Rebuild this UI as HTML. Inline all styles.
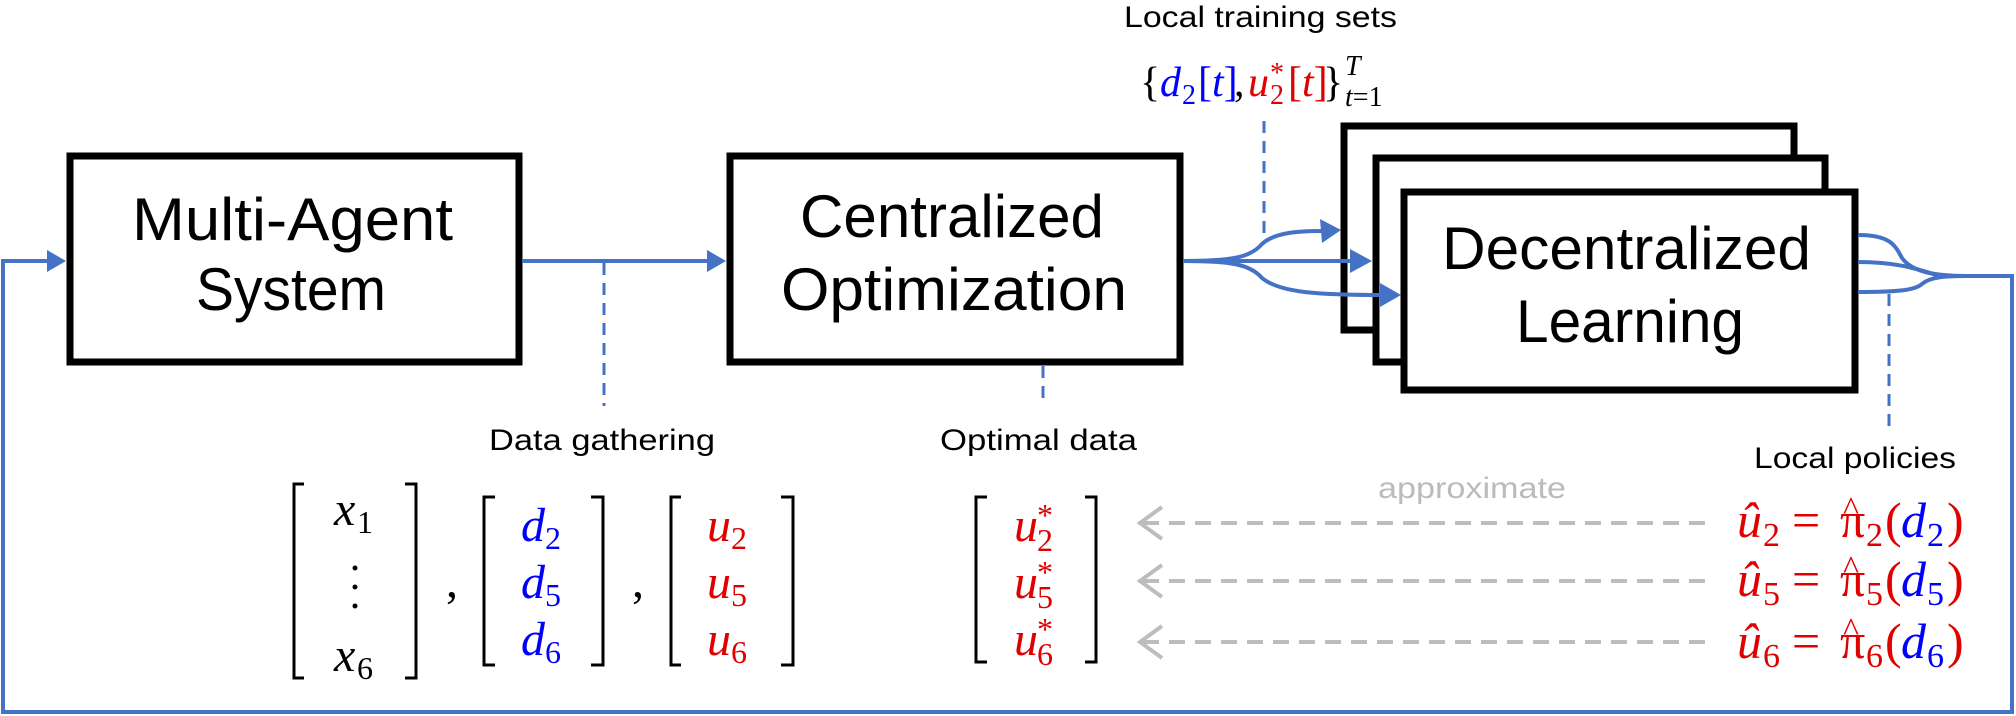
<!DOCTYPE html>
<html><head><meta charset="utf-8"><style>
html,body{margin:0;padding:0;background:#fff;}
svg{display:block;}
.s{font-family:"Liberation Sans",sans-serif;fill:#000;}
.m{font-family:"Liberation Serif",serif;}
.i{font-style:italic;}
</style></head><body>
<svg width="2016" height="716" viewBox="0 0 2016 716" xmlns="http://www.w3.org/2000/svg">
<!-- boxes -->
<g fill="#fff" stroke="#000" stroke-width="7">
<rect x="70" y="156" width="449" height="206"/>
<rect x="730" y="156" width="450" height="206"/>
<rect x="1344" y="126" width="450" height="204"/>
<rect x="1376" y="158" width="449" height="204"/>
<rect x="1404" y="192" width="451" height="198"/>
</g>
<g fill="none" stroke="#4472c4" stroke-width="4">
<polyline points="1966,276 2012,276 2012,712 3,712 3,261 50,261"/>
<line x1="522" y1="261" x2="708" y2="261"/>
<line x1="1183" y1="261" x2="1352" y2="261"/>
<path d="M1183,261 C1230,261 1250,258 1262,244 C1275,232 1300,231 1323,231"/>
<path d="M1183,261 C1230,261 1250,264 1262,278 C1280,293 1320,295 1383,295"/>
<path d="M1858,235 C1890,235 1895,245 1902,258 C1912,272 1935,276 1966,276"/>
<path d="M1858,262 C1900,262 1920,270 1940,276"/>
<path d="M1858,292 C1900,292 1915,290 1922,284 C1930,277 1945,276 1966,276"/>
</g>
<g fill="#4472c4">
<polygon points="66,261 47,250 47,272"/>
<polygon points="726,261 707,250 707,272"/>
<polygon points="1341,230 1320,219 1322,243"/>
<polygon points="1372,261 1350,249 1350,273"/>
<polygon points="1401,295 1380,283 1380,307"/>
</g>
<g stroke="#4472c4" stroke-width="3" stroke-dasharray="12,8" fill="none">
<line x1="604" y1="263" x2="604" y2="406"/>
<line x1="1043" y1="366" x2="1043" y2="406"/>
<line x1="1264" y1="121" x2="1264" y2="244"/>
<line x1="1889" y1="294" x2="1889" y2="434"/>
</g>
<text class="s" x="132" y="240" font-size="60" textLength="321" lengthAdjust="spacingAndGlyphs">Multi-Agent</text>
<text class="s" x="196" y="310" font-size="60" textLength="190" lengthAdjust="spacingAndGlyphs">System</text>
<text class="s" x="800" y="237" font-size="60" textLength="304" lengthAdjust="spacingAndGlyphs">Centralized</text>
<text class="s" x="781" y="310" font-size="60" textLength="346" lengthAdjust="spacingAndGlyphs">Optimization</text>
<text class="s" x="1442" y="269" font-size="60" textLength="369" lengthAdjust="spacingAndGlyphs">Decentralized</text>
<text class="s" x="1516" y="342" font-size="60" textLength="228" lengthAdjust="spacingAndGlyphs">Learning</text>
<text class="s" x="489" y="450" font-size="30" textLength="226" lengthAdjust="spacingAndGlyphs">Data gathering</text>
<text class="s" x="940" y="450" font-size="30" textLength="197" lengthAdjust="spacingAndGlyphs">Optimal data</text>
<text class="s" x="1124" y="27" font-size="30" textLength="273" lengthAdjust="spacingAndGlyphs">Local training sets</text>
<text class="s" x="1754" y="468" font-size="30" textLength="202" lengthAdjust="spacingAndGlyphs">Local policies</text>
<text class="s" x="1378" y="498" font-size="30" style="fill:#bbb" textLength="188" lengthAdjust="spacingAndGlyphs">approximate</text>
<g class="m" font-size="42">
<text x="1140" y="96">{</text>
<text x="1160" y="96" class="i" fill="#0000ff">d</text>
<text x="1182" y="104" font-size="28" fill="#0000ff">2</text>
<text x="1198" y="96" fill="#0000ff">[<tspan class="i">t</tspan>]</text>
<text x="1234" y="96">,</text>
<text x="1248" y="96" class="i" fill="#e00000">u</text>
<text x="1270" y="82" font-size="28" fill="#e00000">*</text>
<text x="1270" y="104" font-size="28" fill="#e00000">2</text>
<text x="1288" y="96" fill="#e00000">[<tspan class="i">t</tspan>]</text>
<text x="1323" y="96">}</text>
<text x="1345" y="75" font-size="28" class="i">T</text>
<text x="1345" y="106" font-size="28"><tspan class="i">t</tspan>=1</text>
</g>
<g fill="none" stroke="#000" stroke-width="3">
<polyline points="304,484 294,484 294,678 304,678"/>
<polyline points="405,484 416,484 416,678 405,678"/>
<polyline points="495,497 484,497 484,665 495,665"/>
<polyline points="591,497 603,497 603,665 591,665"/>
<polyline points="681,497 671,497 671,665 681,665"/>
<polyline points="781,497 793,497 793,665 781,665"/>
<polyline points="987,497 976,497 976,662 987,662"/>
<polyline points="1085,497 1096,497 1096,662 1085,662"/>
</g>
<g class="m" font-size="48">
<text x="334" y="525" class="i">x</text><text x="357" y="533" font-size="32">1</text>
<text x="334" y="671" class="i">x</text><text x="357" y="679" font-size="32">6</text>
<text x="446" y="597">,</text>
<text x="632" y="597">,</text>
<g fill="#0000ff">
<text x="521" y="541" class="i">d</text><text x="545" y="549" font-size="32">2</text>
<text x="521" y="598" class="i">d</text><text x="545" y="606" font-size="32">5</text>
<text x="521" y="655" class="i">d</text><text x="545" y="663" font-size="32">6</text>
</g>
<g fill="#e00000">
<text x="707" y="541" class="i">u</text><text x="731" y="549" font-size="32">2</text>
<text x="707" y="598" class="i">u</text><text x="731" y="606" font-size="32">5</text>
<text x="707" y="655" class="i">u</text><text x="731" y="663" font-size="32">6</text>
<text x="1014" y="541" class="i">u</text><text x="1037" y="526" font-size="32">*</text><text x="1037" y="551" font-size="32">2</text>
<text x="1014" y="598" class="i">u</text><text x="1037" y="583" font-size="32">*</text><text x="1037" y="608" font-size="32">5</text>
<text x="1014" y="655" class="i">u</text><text x="1037" y="640" font-size="32">*</text><text x="1037" y="665" font-size="32">6</text>
</g>
</g>
<g fill="#000"><circle cx="355" cy="568" r="2.5"/><circle cx="355" cy="587" r="2.5"/><circle cx="355" cy="606" r="2.5"/></g>
<g stroke="#bdbdbd" stroke-width="4" fill="none">
<g stroke-dasharray="16,10">
<line x1="1705" y1="523" x2="1142" y2="523"/>
<line x1="1705" y1="581" x2="1142" y2="581"/>
<line x1="1705" y1="642" x2="1142" y2="642"/>
</g>
<polyline points="1162,507 1140,523 1162,539"/>
<polyline points="1162,565 1140,581 1162,597"/>
<polyline points="1162,626 1140,642 1162,658"/>
</g>
<g class="m" font-size="50">
<g>
<text x="1737" y="537" class="i" fill="#e00000">û</text><text x="1763" y="546" font-size="34" fill="#e00000">2</text>
<text x="1792" y="537" fill="#e00000">=</text>
<text x="1840" y="537" fill="#e00000">π</text><text x="1843" y="520" font-size="34" fill="#e00000">^</text><text x="1866" y="546" font-size="34" fill="#e00000">2</text>
<text x="1885" y="537" fill="#e00000">(</text><text x="1901" y="537" class="i" fill="#0000ff">d</text><text x="1927" y="546" font-size="34" fill="#0000ff">2</text><text x="1947" y="537" fill="#e00000">)</text>
</g>
<g>
<text x="1737" y="596" class="i" fill="#e00000">û</text><text x="1763" y="605" font-size="34" fill="#e00000">5</text>
<text x="1792" y="596" fill="#e00000">=</text>
<text x="1840" y="596" fill="#e00000">π</text><text x="1843" y="579" font-size="34" fill="#e00000">^</text><text x="1866" y="605" font-size="34" fill="#e00000">5</text>
<text x="1885" y="596" fill="#e00000">(</text><text x="1901" y="596" class="i" fill="#0000ff">d</text><text x="1927" y="605" font-size="34" fill="#0000ff">5</text><text x="1947" y="596" fill="#e00000">)</text>
</g>
<g>
<text x="1737" y="658" class="i" fill="#e00000">û</text><text x="1763" y="667" font-size="34" fill="#e00000">6</text>
<text x="1792" y="658" fill="#e00000">=</text>
<text x="1840" y="658" fill="#e00000">π</text><text x="1843" y="641" font-size="34" fill="#e00000">^</text><text x="1866" y="667" font-size="34" fill="#e00000">6</text>
<text x="1885" y="658" fill="#e00000">(</text><text x="1901" y="658" class="i" fill="#0000ff">d</text><text x="1927" y="667" font-size="34" fill="#0000ff">6</text><text x="1947" y="658" fill="#e00000">)</text>
</g>
</g>
</svg>
</body></html>
